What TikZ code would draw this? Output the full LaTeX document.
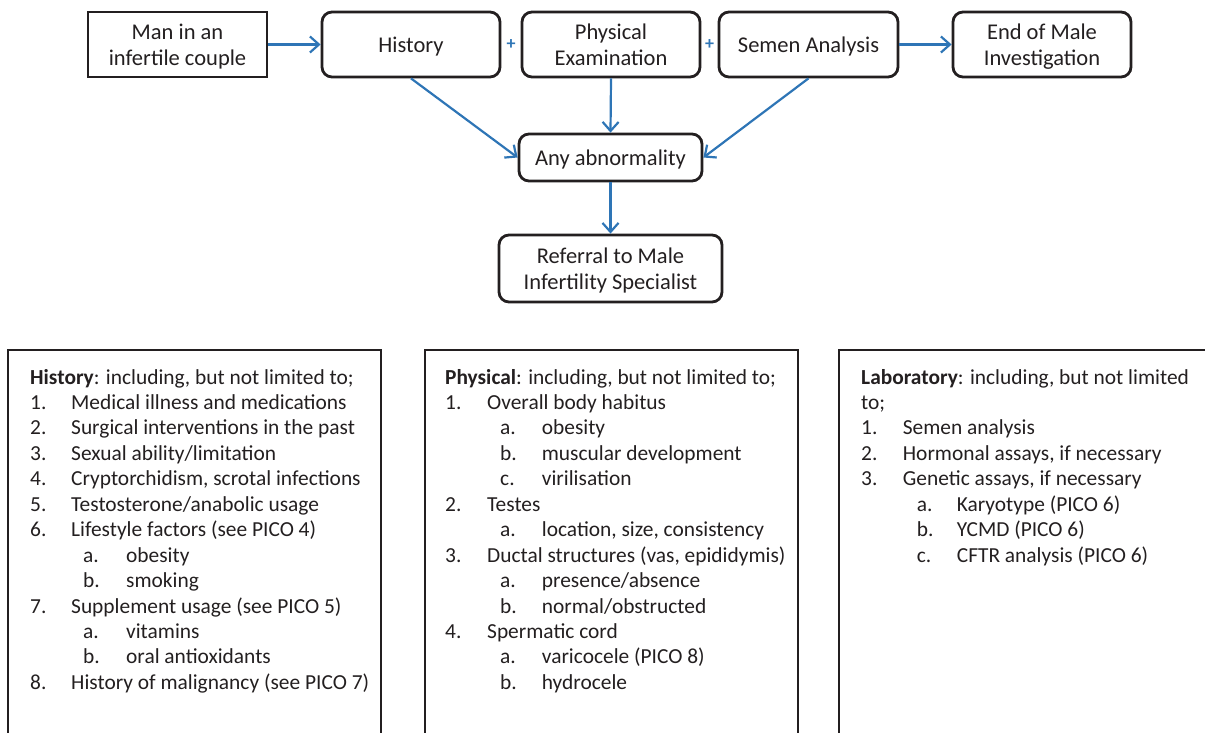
\documentclass[tikz,border=0pt]{standalone}
\usepackage{fontspec}
\setmainfont{Carlito}
\usetikzlibrary{arrows.meta}
\definecolor{bd}{HTML}{231F20}
\definecolor{bl}{HTML}{2E75B6}
\newcommand{\nb}[2]{\makebox[#1pt][l]{#2}}
\begin{document}
\begin{tikzpicture}[x=1pt,y=-1pt,
  box/.style={draw=bd, line width=2.8pt, align=center, text=bd, inner sep=0pt, text depth=0pt,
    font=\fontsize{22.5}{26}\selectfont},
  rbox/.style={box, rounded corners=10pt},
  arr/.style={draw=bl, line width=2.2pt, -{Straight Barb[length=9pt,width=16pt]}},
  plus/.style={text=bl, font=\fontsize{18}{18}\selectfont\bfseries, inner sep=0pt},
  lt/.style={anchor=base west, inner sep=0pt, text=bd, font=\fontsize{21.4}{25}\selectfont},
  frame/.style={draw=bd, line width=2.8pt}]
\useasboundingbox (0,0) rectangle (1205,733);
\clip (0,0) rectangle (1205,733);
% top row
\node[box, minimum width=179pt, minimum height=65pt] (man) at (177.5,44.5) {Man in an\\infertile couple};
\node[rbox, minimum width=178pt, minimum height=65pt] (hist) at (411,44.5) {History};
\node[rbox, minimum width=178pt, minimum height=65pt] (phys) at (611,44.5) {Physical\\Examination};
\node[rbox, minimum width=179pt, minimum height=65pt] (sem) at (808.5,44.5) {Semen Analysis};
\node[rbox, minimum width=178pt, minimum height=65pt] (end) at (1042,44.5) {End of Male\\Investigation};
\node[plus] (p1) at (511,45) {+};
\node[plus] (p2) at (709.5,45) {+};
\node[rbox, minimum width=183pt, minimum height=47pt] (abn) at (610.5,157.5) {Any abnormality};
\node[rbox, minimum width=223pt, minimum height=67pt] (ref) at (610.5,268.5) {Referral to Male\\Infertility Specialist};
\draw[arr] (man) -- (hist);
\draw[arr] (sem) -- (end);
\draw[arr] (hist.south) -- (abn.west);
\draw[arr] (phys.south) -- (abn.north);
\draw[arr] (sem.south) -- (abn.east);
\draw[arr] (abn.south) -- (ref.north);
% bottom frames
\draw[frame] (8,740) -- (8,350) -- (381,350) -- (381,740);
\draw[frame] (425,740) -- (425,350) -- (798,350) -- (798,740);
\draw[frame] (839,740) -- (839,350) -- (1215,350);
% History list
\node[lt] (hH) at (30,384) {\textbf{History}: including, but not limited to;};
\node[lt] (h1) at (30,{384+25.45*1}) {\nb{41}{1.}Medical illness and medications};
\node[lt] (h2) at (30,{384+25.45*2}) {\nb{41}{2.}Surgical interventions in the past};
\node[lt] (h3) at (30,{384+25.45*3}) {\nb{41}{3.}Sexual ability/limitation};
\node[lt] (h4) at (30,{384+25.45*4}) {\nb{41}{4.}Cryptorchidism, scrotal infections};
\node[lt] (h5) at (30,{384+25.45*5}) {\nb{41}{5.}Testosterone/anabolic usage};
\node[lt] (h6) at (30,{384+25.45*6}) {\nb{41}{6.}Lifestyle factors (see PICO 4)};
\node[lt] (h6a) at (83,{384+25.45*7}) {\nb{43}{a.}obesity};
\node[lt] (h6b) at (83,{384+25.45*8}) {\nb{43}{b.}smoking};
\node[lt] (h7) at (30,{384+25.45*9}) {\nb{41}{7.}Supplement usage (see PICO 5)};
\node[lt] (h7a) at (83,{384+25.45*10}) {\nb{43}{a.}vitamins};
\node[lt] (h7b) at (83,{384+25.45*11}) {\nb{43}{b.}oral antioxidants};
\node[lt] (h8) at (30,{384+25.45*12}) {\nb{41}{8.}History of malignancy (see PICO 7)};
% Physical list
\node[lt] (pH) at (445,384) {\textbf{Physical}: including, but not limited to;};
\node[lt] (p1l) at (445,{384+25.45*1}) {\nb{42}{1.}Overall body habitus};
\node[lt] (p1a) at (500,{384+25.45*2}) {\nb{41.7}{a.}obesity};
\node[lt] (p1b) at (500,{384+25.45*3}) {\nb{41.7}{b.}muscular development};
\node[lt] (p1c) at (500,{384+25.45*4}) {\nb{41.7}{c.}virilisation};
\node[lt] (p2l) at (445,{384+25.45*5}) {\nb{42}{2.}Testes};
\node[lt] (p2a) at (500,{384+25.45*6}) {\nb{41.7}{a.}location, size, consistency};
\node[lt] (p3l) at (445,{384+25.45*7}) {\nb{42}{3.}Ductal structures (vas, epididymis)};
\node[lt] (p3a) at (500,{384+25.45*8}) {\nb{41.7}{a.}presence/absence};
\node[lt] (p3b) at (500,{384+25.45*9}) {\nb{41.7}{b.}normal/obstructed};
\node[lt] (p4l) at (445,{384+25.45*10}) {\nb{42}{4.}Spermatic cord};
\node[lt] (p4a) at (500,{384+25.45*11}) {\nb{41.7}{a.}varicocele (PICO 8)};
\node[lt] (p4b) at (500,{384+25.45*12}) {\nb{41.7}{b.}hydrocele};
% Laboratory list
\node[lt] (lH) at (861,384) {\textbf{Laboratory}: including, but not limited};
\node[lt] (lH2) at (861,{384+25.45*1}) {to;};
\node[lt] (l1) at (861,{384+25.45*2}) {\nb{41.7}{1.}Semen analysis};
\node[lt] (l2) at (861,{384+25.45*3}) {\nb{41.7}{2.}Hormonal assays, if necessary};
\node[lt] (l3) at (861,{384+25.45*4}) {\nb{41.7}{3.}Genetic assays, if necessary};
\node[lt] (l3a) at (916.7,{384+25.45*5}) {\nb{40}{a.}Karyotype (PICO 6)};
\node[lt] (l3b) at (916.7,{384+25.45*6}) {\nb{40}{b.}YCMD (PICO 6)};
\node[lt] (l3c) at (916.7,{384+25.45*7}) {\nb{40}{c.}CFTR analysis (PICO 6)};
\end{tikzpicture}
\end{document}
